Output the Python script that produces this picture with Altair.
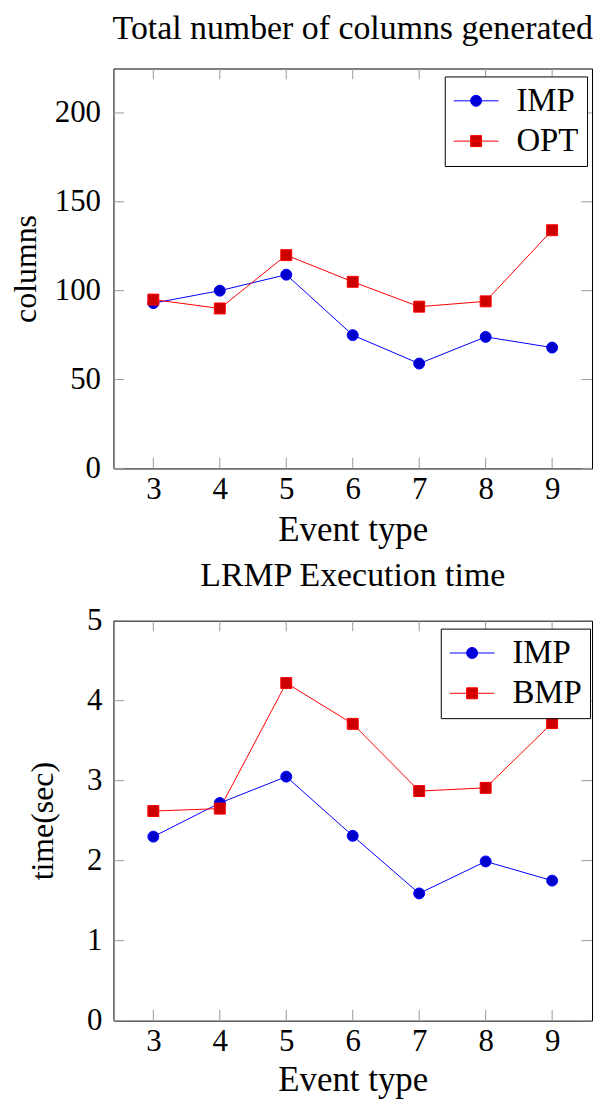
import altair as alt
import pandas as pd

# ---- data ----
event_types = [3, 4, 5, 6, 7, 8, 9]
cols_imp = [93, 100, 109, 75, 59, 74, 68]
cols_opt = [95, 90, 120, 105, 91, 94, 134]
time_imp = [2.30, 2.72, 3.05, 2.31, 1.59, 1.99, 1.75]
time_bmp = [2.62, 2.65, 4.22, 3.71, 2.87, 2.91, 3.72]

x_ticks = [3, 4, 5, 6, 7, 8, 9]
x_range = [2.4, 9.6]
y1_ticks = [0, 50, 100, 150, 200]
y1_range = [0, 225]
y2_ticks = [0, 1, 2, 3, 4, 5]
y2_range = [0, 5]

FONT = "Liberation Serif"
LINE_COLORS = ["#0000ff", "#ff0000"]
FILL_COLORS = ["#0000cc", "#cc0000"]
TICK_COLOR = "#999999"
TICK_LEN = 10.7
W, H = 481, 402

LEG_CIRCLE = "M-1.5,0L1.5,0M-0.367,0A0.367,0.367,0,1,1,0.367,0A0.367,0.367,0,1,1,-0.367,0Z"
LEG_SQUARE = "M-1.5,0L1.5,0M-0.367,-0.367L0.367,-0.367L0.367,0.367L-0.367,0.367Z"


def make_df(s1_name, s1, s2_name, s2):
    rows = []
    for x, v in zip(event_types, s1):
        rows.append({"event": x, "value": v, "series": s1_name})
    for x, v in zip(event_types, s2):
        rows.append({"event": x, "value": v, "series": s2_name})
    return pd.DataFrame(rows)


def panel(df, series, y_dom, y_ticks, title, title_offset, ytitle, ylab_pad,
          ytitle_pad, legend_x, xlab_pad, xtitle_pad):
    xs = alt.Scale(domain=x_range, nice=False, zero=False)
    ys = alt.Scale(domain=y_dom, nice=False, zero=False)
    base = alt.Chart(df)

    leg = alt.Legend(
        title=None, orient="none", legendX=legend_x, legendY=8,
        labelFont=FONT, labelFontSize=33, labelColor="black",
        symbolSize=900, symbolStrokeWidth=1, symbolOffset=7, labelOffset=24,
        symbolOpacity=1,
        rowPadding=6.5, padding=8, strokeColor="black", fillColor="white",
        cornerRadius=0,
    )

    main_x = alt.Axis(values=x_ticks, title="Event type", tickSize=0,
                      domain=False, grid=False, labelPadding=xlab_pad,
                      titlePadding=xtitle_pad, labelFont=FONT, labelFontSize=31,
                      titleFont=FONT, titleFontSize=35, titleFontWeight="normal",
                      labelColor="black", titleColor="black")
    main_y = alt.Axis(values=y_ticks, title=ytitle, tickSize=0, domain=False,
                      grid=False, labelPadding=ylab_pad, titlePadding=ytitle_pad,
                      labelFont=FONT, labelFontSize=31, titleFont=FONT,
                      titleFontSize=32, titleFontWeight="normal",
                      labelColor="black", titleColor="black")

    def X():
        return alt.X("event:Q", scale=xs, axis=main_x)

    def Y():
        return alt.Y("value:Q", scale=ys, axis=main_y)

    # inward tick marks on all four sides of the frame
    half = TICK_LEN / 2
    bot_df = pd.DataFrame({"event": x_ticks, "value": [y_dom[0]] * len(x_ticks)})
    top_df = pd.DataFrame({"event": x_ticks, "value": [y_dom[1]] * len(x_ticks)})
    lft_df = pd.DataFrame({"event": [x_range[0]] * len(y_ticks), "value": y_ticks})
    rgt_df = pd.DataFrame({"event": [x_range[1]] * len(y_ticks), "value": y_ticks})

    def vtick(d, off):
        return alt.Chart(d).mark_tick(
            orient="vertical", size=TICK_LEN, thickness=1, color=TICK_COLOR,
            opacity=1, yOffset=off).encode(x=X(), y=Y())

    def htick(d, off):
        return alt.Chart(d).mark_tick(
            orient="horizontal", size=TICK_LEN, thickness=1, color=TICK_COLOR,
            opacity=1, xOffset=off).encode(x=X(), y=Y())

    ticks = [vtick(bot_df, -half), vtick(top_df, half),
             htick(lft_df, half), htick(rgt_df, -half)]

    lines = base.mark_line(strokeWidth=1).encode(
        x=X(), y=Y(),
        color=alt.Color("series:N", scale=alt.Scale(domain=series, range=LINE_COLORS),
                        legend=None),
    )
    points = base.mark_point(size=121, strokeWidth=1, opacity=1,
                             fillOpacity=1).encode(
        x=X(), y=Y(),
        shape=alt.Shape("series:N", scale=alt.Scale(domain=series,
                        range=["circle", "square"]), legend=None),
        fill=alt.Fill("series:N", scale=alt.Scale(domain=series, range=FILL_COLORS),
                      legend=None),
        stroke=alt.Stroke("series:N", scale=alt.Scale(domain=series, range=LINE_COLORS),
                          legend=None),
    )
    ghost = base.mark_point(opacity=0, size=1, strokeWidth=1,
                            fillOpacity=1).encode(
        x=X(), y=Y(),
        shape=alt.Shape("series:N", scale=alt.Scale(domain=series,
                        range=[LEG_CIRCLE, LEG_SQUARE]), legend=leg),
        fill=alt.Fill("series:N", scale=alt.Scale(domain=series, range=FILL_COLORS),
                      legend=leg),
        stroke=alt.Stroke("series:N", scale=alt.Scale(domain=series, range=LINE_COLORS),
                          legend=leg),
    )
    return alt.layer(*ticks, lines, ghost, points).resolve_scale(
        shape="independent", fill="independent", stroke="independent"
    ).properties(
        width=W, height=H,
        title=alt.Title(title, font=FONT, fontSize=34, fontWeight="normal",
                        color="black", anchor="middle", frame="group",
                        offset=title_offset),
    )


df1 = make_df("IMP", cols_imp, "OPT", cols_opt)
df2 = make_df("IMP", time_imp, "BMP", time_bmp)

top = panel(df1, ["IMP", "OPT"], y1_range, y1_ticks,
            "Total number of columns generated", 22.8, "columns",
            ylab_pad=13, ytitle_pad=12.2, legend_x=333, xlab_pad=6.5,
            xtitle_pad=7.5)
bottom = panel(df2, ["IMP", "BMP"], y2_range, y2_ticks,
               "LRMP Execution time", 12.3, "time(sec)",
               ylab_pad=11.5, ytitle_pad=27.4, legend_x=329, xlab_pad=6.5,
               xtitle_pad=6)

chart = alt.concat(top, bottom, columns=1, spacing=10, center=False,
                   align="none", bounds="full").resolve_scale(
    x="independent", y="independent", color="independent", fill="independent",
    stroke="independent", shape="independent"
).configure(
    padding={"left": 0, "top": 0, "right": 0, "bottom": 0},
    background="white",
).configure_view(stroke="black", strokeWidth=1)

chart.save("out.html", embed_options={"renderer": "svg", "actions": False})
